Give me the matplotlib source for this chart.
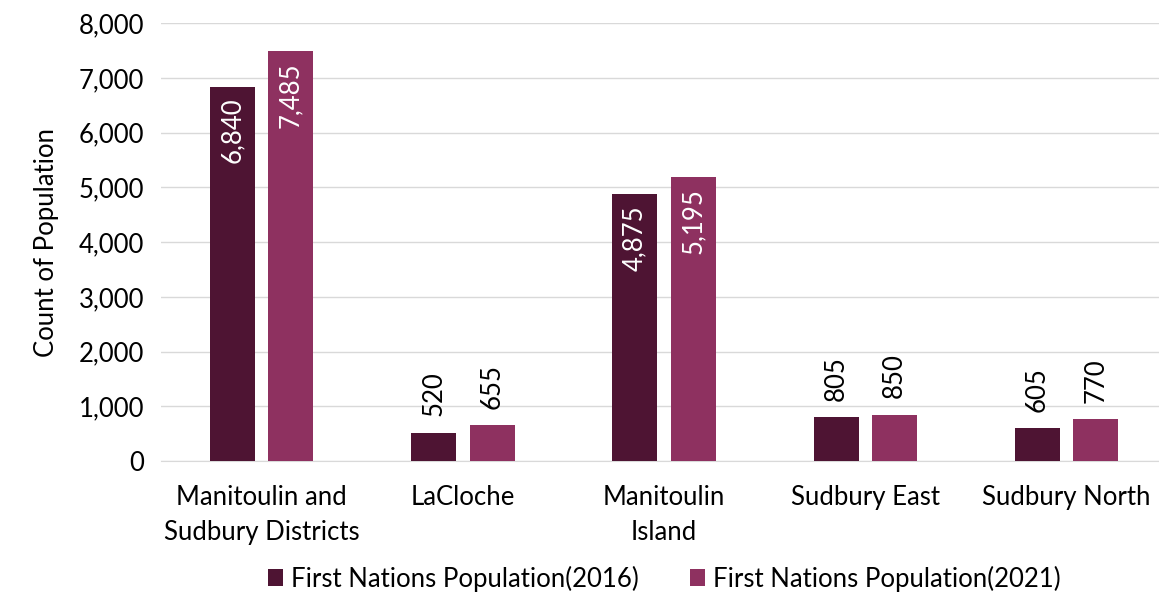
import matplotlib
matplotlib.use("Agg")
import matplotlib.pyplot as plt
import numpy as np

plt.rcParams['font.family'] = ['Lato', 'DejaVu Sans']

categories = ["Manitoulin and\nSudbury Districts", "LaCloche", "Manitoulin\nIsland",
              "Sudbury East", "Sudbury North"]
pop_2016 = [6840, 520, 4875, 805, 605]
pop_2021 = [7485, 655, 5195, 850, 770]
series_names = ["First Nations Population(2016)", "First Nations Population(2021)"]
colors = ["#4E1433", "#8E3160"]

FS = 18.5

fig = plt.figure(figsize=(11.59, 5.95), dpi=100)
ax = fig.add_axes([0.139, 0.225, 0.868, 0.736])

x = np.arange(len(categories))
width = 0.224
offset = 0.145

for vals, dx, col, name in zip([pop_2016, pop_2021], [-offset, offset], colors, series_names):
    bars = ax.bar(x + dx, vals, width, color=col, label=name, zorder=3)
    for b, v in zip(bars, vals):
        cx = b.get_x() + b.get_width() / 2
        txt = f"{v:,}"
        if v > 3000:
            ax.text(cx, v - 200, txt, rotation=90, ha='center', va='top',
                    color='white', fontsize=FS)
        else:
            ax.text(cx, v + 300, txt, rotation=90, ha='center', va='bottom',
                    color='black', fontsize=FS)

ax.set_xlim(-0.5, len(categories) - 0.5)
ax.set_ylim(0, 8000)
ax.set_yticks(np.arange(0, 8001, 1000))
ax.set_yticklabels([f"{t:,}" for t in range(0, 8001, 1000)])
ax.set_xticks(x)
ax.set_xticklabels(categories, linespacing=1.5)
ax.tick_params(axis='both', length=0, labelsize=FS, colors='black')
ax.tick_params(axis='x', pad=17)
ax.tick_params(axis='y', pad=12)
ax.grid(axis='y', color='#D9D9D9', linewidth=1, zorder=0)
for s in ['top', 'right', 'left']:
    ax.spines[s].set_visible(False)
ax.spines['bottom'].set_color('#D9D9D9')
ax.set_ylabel("Count of Population", fontsize=FS, labelpad=14)

ax.legend(loc='upper center', bbox_to_anchor=(0.5, -0.215), ncol=2, frameon=False,
          fontsize=FS, handlelength=0.6, handleheight=0.6, handletextpad=0.3,
          columnspacing=2.0, borderaxespad=0)

fig.savefig("out.png", dpi=100)
